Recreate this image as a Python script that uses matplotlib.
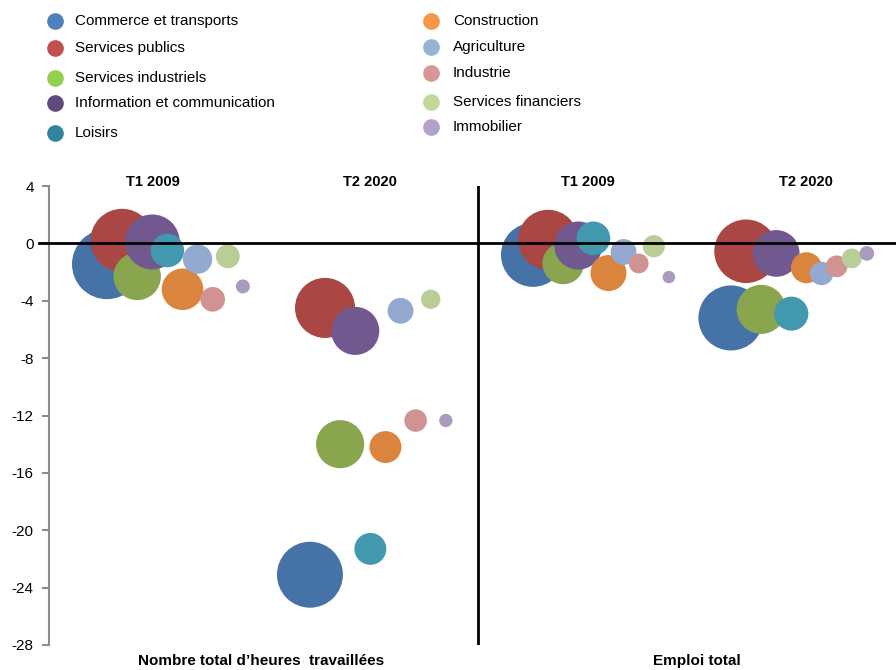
import matplotlib
matplotlib.use("Agg")
import matplotlib.pyplot as plt
from matplotlib.lines import Line2D

plt.rcParams["font.family"] = ["Liberation Sans", "DejaVu Sans"]
plt.rcParams["axes.unicode_minus"] = False

# Secteurs (ordre de tracé et de légende)
secteurs = [
    "Commerce et transports", "Services publics", "Services industriels",
    "Information et communication", "Loisirs", "Construction", "Agriculture",
    "Industrie", "Services financiers", "Immobilier",
]

# Variation (%) par secteur, pour chaque panneau
heures_t1_2009 = [-1.45, 0.2, -2.3, 0.1, -0.5, -3.2, -1.1, -3.9, -0.9, -3.0]
heures_t2_2020 = [-23.1, -4.5, -14.0, -6.1, -21.3, -14.2, -4.7, -12.35, -3.9, -12.35]
emploi_t1_2009 = [-0.8, 0.25, -1.4, -0.15, 0.35, -2.07, -0.6, -1.4, -0.2, -2.35]
emploi_t2_2020 = [-5.2, -0.55, -4.6, -0.7, -4.9, -1.7, -2.1, -1.6, -1.05, -0.7]

# Poids des secteurs (taille des bulles) par panneau
poids_h_2009 = [25.0, 20.5, 11.5, 15.4, 5.7, 8.8, 4.4, 3.1, 2.9, 1.0]
poids_h_2020 = [22.2, 18.4, 11.8, 11.8, 5.2, 5.2, 3.4, 2.6, 1.9, 0.9]
poids_e_2009 = [20.9, 18.4, 8.8, 11.8, 5.8, 6.6, 3.4, 2.0, 2.5, 0.8]
poids_e_2020 = [21.6, 20.6, 12.3, 11.1, 5.9, 4.9, 2.8, 2.4, 2.0, 1.1]

periodes = ["T1 2009", "T2 2020", "T1 2009", "T2 2020"]
mesures = ["Nombre total d\u2019heures  travaillées", "Emploi total"]

valeurs = [heures_t1_2009, heures_t2_2020, emploi_t1_2009, emploi_t2_2020]
poids = [poids_h_2009, poids_h_2020, poids_e_2009, poids_e_2020]

couleurs_bulles = ["#4572A7", "#AA4643", "#89A54E", "#71588F", "#4198AF",
                   "#DB843D", "#93A9CF", "#D19392", "#B9CD96", "#A99BBD"]
couleurs_legende = ["#4F81BD", "#C0504D", "#92D050", "#604A7B", "#31849B",
                    "#F79646", "#95B3D7", "#DA9694", "#C4D79B", "#B1A0C7"]

# Mise en page horizontale des quatre groupes de bulles
debut_groupes = [0.0, 13.44, 28.21, 41.32]
pos_periodes = [3.05, 17.42, 31.85, 46.29]
separateur = 24.54

W, H = 896, 670
fig = plt.figure(figsize=(W / 100, H / 100), dpi=100)
ax = fig.add_axes([49 / W, 25 / H, (W - 49) / W, (645 - 186) / H])

for i, nom in enumerate(secteurs):
    xs = [debut_groupes[g] + i for g in range(4)]
    ys = [valeurs[g][i] for g in range(4)]
    ss = [101.6 * poids[g][i] for g in range(4)]
    ax.scatter(xs, ys, s=ss, color=couleurs_bulles[i], edgecolors="none",
               zorder=3 + i * 0.01)

ax.set_xlim(-3.84, 52.25)
ax.set_ylim(-28, 4)
ax.set_yticks(range(-28, 5, 4))
ax.set_xticks([])
ax.tick_params(axis="y", direction="out", length=5, width=1.5, color="#8c8c8c",
               labelsize=11, pad=6)
for side in ["top", "right", "bottom"]:
    ax.spines[side].set_visible(False)
ax.spines["left"].set_color("#8c8c8c")
ax.spines["left"].set_linewidth(1.5)

# Ligne du zéro et séparation des deux mesures
ax.axhline(0, color="black", lw=2, zorder=10, xmin=-0.012, clip_on=False)
ax.axvline(separateur, color="black", lw=2, zorder=10)

for x, p in zip(pos_periodes, periodes):
    ax.text(x, 4.3, p, ha="center", va="center", fontsize=10.5,
            fontweight="bold")

fig.text(261 / W, 1 - 661 / H, mesures[0], ha="center", va="center",
         fontsize=11, fontweight="bold")
fig.text(697 / W, 1 - 661 / H, mesures[1], ha="center", va="center",
         fontsize=11, fontweight="bold")

# Légende en deux colonnes
leg_rows_gauche = [21, 48, 78, 103, 133]
leg_rows_droite = [21, 47, 73, 102, 127]
for i, nom in enumerate(secteurs):
    if i < 5:
        mx, tx, y = 55, 75, leg_rows_gauche[i]
    else:
        mx, tx, y = 431, 453, leg_rows_droite[i - 5]
    fig.add_artist(Line2D([mx / W], [1 - y / H], marker="o", markersize=12,
                          color=couleurs_legende[i], markeredgewidth=0,
                          linestyle="none", transform=fig.transFigure))
    fig.text(tx / W, 1 - y / H, nom, ha="left", va="center", fontsize=11)

fig.savefig("out.png", dpi=100)
